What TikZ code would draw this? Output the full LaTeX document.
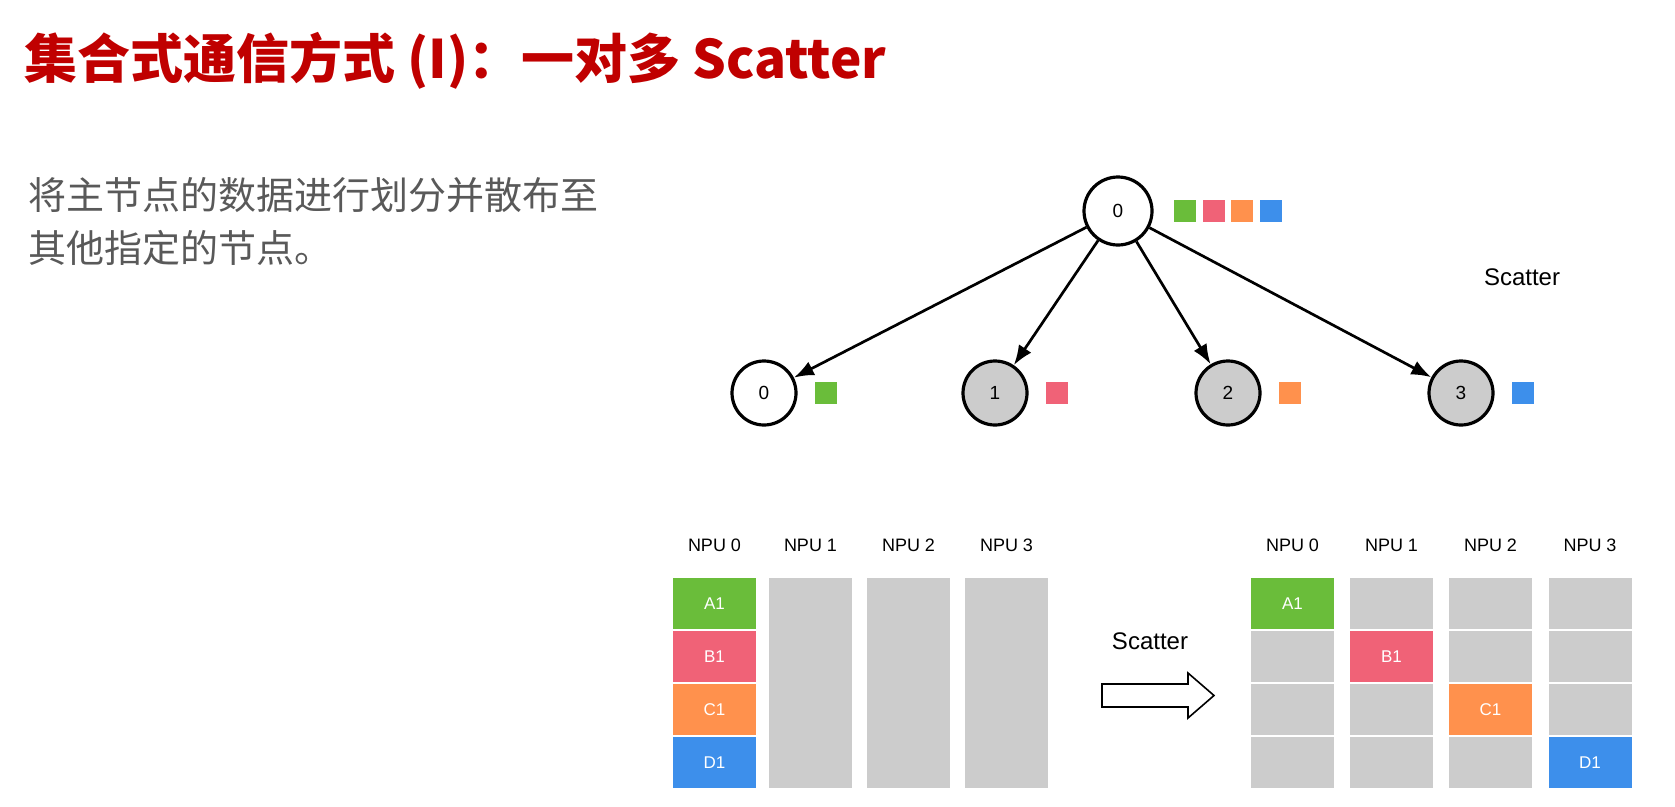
\documentclass[tikz,border=0pt]{standalone}
\usepackage{fontspec}
\setmainfont{Liberation Sans}
\newfontfamily\cjk{Noto Sans CJK SC}
\usepackage{tikz}
\usetikzlibrary{positioning}
\usetikzlibrary{arrows.meta}

\definecolor{cred}{HTML}{C00000}
\definecolor{cbody}{HTML}{595959}
\definecolor{cgreen}{HTML}{6ABD3A}
\definecolor{cpink}{HTML}{F06277}
\definecolor{corange}{HTML}{FF914D}
\definecolor{cblue}{HTML}{3D8FEB}
\definecolor{cgray}{HTML}{CCCCCC}

\begin{document}
\begin{tikzpicture}
	[x=1pt, y=-1pt, line width=2.7pt, >={Latex[length=20pt,width=15pt]},
	 main/.style = {draw, circle, line width=3.2pt, minimum size=64pt, inner sep=0pt, font=\fontsize{19}{19}\selectfont},
	 done/.style = {main, fill=cgray},
	 sq/.style = {minimum size=22pt, inner sep=0pt},
	 cell/.style = {minimum width=83pt, minimum height=51pt, inner sep=0pt, text=white, font=\fontsize{17}{17}\selectfont},
	 npu/.style = {font=\fontsize{18}{18}\selectfont},
	 lbl/.style = {font=\fontsize{24}{24}\selectfont}]
	\useasboundingbox (0,0) rectangle (1675,806);
	% title and text
	\node[anchor=base west, text=cred, inner sep=0pt, font=\cjk\bfseries\fontsize{53}{53}\selectfont] (title) at (23,78) {集合式通信方式 (I)：一对多 Scatter};
	\node[anchor=north west, text=cbody, align=left, inner sep=0pt, font=\cjk\fontsize{38}{53}\selectfont] (desc) at (27,176) {将主节点的数据进行划分并散布至\\其他指定的节点。};
	% tree
	\node[main, minimum size=68pt] (0) at (1118,211) {0};
	\node[main] (n0) at (764,393) {0};
	\node[done] (n1) at (995,393) {1};
	\node[done] (n2) at (1228,393) {2};
	\node[done] (n3) at (1461,393) {3};
	\node[sq, fill=cgreen] (q0) [right = 19pt of 0] {};
	\node[sq, fill=cpink] (q1) [right = 4pt of q0] {};
	\node[sq, fill=corange] (q2) [right = 4pt of q1] {};
	\node[sq, fill=cblue] (q3) [right = 4pt of q2] {};
	\node[sq, fill=cgreen] (s0) [right = 16pt of n0] {};
	\node[sq, fill=cpink] (s1) [right = 16pt of n1] {};
	\node[sq, fill=corange] (s2) [right = 16pt of n2] {};
	\node[sq, fill=cblue] (s3) [right = 16pt of n3] {};
	\node[lbl] (tl) at (1522,277) {Scatter};
	\draw[->] (0) -- (n0);
	\draw[->] (0) -- (n1);
	\draw[->] (0) -- (n2);
	\draw[->] (0) -- (n3);
	% before
	\node[npu] (h0) at (714.5,545) {NPU 0};
	\node[npu] (h1) at (810.5,545) {NPU 1};
	\node[npu] (h2) at (908.5,545) {NPU 2};
	\node[npu] (h3) at (1006.5,545) {NPU 3};
	\node[cell, fill=cgreen] (a1) at (714.5,603.5) {A1};
	\node[cell, fill=cpink] (b1) at (714.5,656.5) {B1};
	\node[cell, fill=corange] (c1) at (714.5,709.5) {C1};
	\node[cell, fill=cblue] (d1) at (714.5,762.5) {D1};
	\node[cell, fill=cgray, minimum height=210pt] (p1) at (810.5,683) {};
	\node[cell, fill=cgray, minimum height=210pt] (p2) at (908.5,683) {};
	\node[cell, fill=cgray, minimum height=210pt] (p3) at (1006.5,683) {};
	% arrow
	\node[lbl] (al) at (1150,641) {Scatter};
	\draw[line width=1.6pt, fill=white] (1102,684) -- (1188,684) -- (1188,673) -- (1214,695.5) -- (1188,718) -- (1188,707) -- (1102,707) -- cycle;
	% after
	\node[npu] (k0) at (1292.5,545) {NPU 0};
	\node[npu] (k1) at (1391.5,545) {NPU 1};
	\node[npu] (k2) at (1490.5,545) {NPU 2};
	\node[npu] (k3) at (1590,545) {NPU 3};
	\node[cell, fill=cgreen] (ra0) at (1292.5,603.5) {A1};
	\node[cell, fill=cgray] (rb0) at (1292.5,656.5) {};
	\node[cell, fill=cgray] (rc0) at (1292.5,709.5) {};
	\node[cell, fill=cgray] (rd0) at (1292.5,762.5) {};
	\node[cell, fill=cgray] (ra1) at (1391.5,603.5) {};
	\node[cell, fill=cpink] (rb1) at (1391.5,656.5) {B1};
	\node[cell, fill=cgray] (rc1) at (1391.5,709.5) {};
	\node[cell, fill=cgray] (rd1) at (1391.5,762.5) {};
	\node[cell, fill=cgray] (ra2) at (1490.5,603.5) {};
	\node[cell, fill=cgray] (rb2) at (1490.5,656.5) {};
	\node[cell, fill=corange] (rc2) at (1490.5,709.5) {C1};
	\node[cell, fill=cgray] (rd2) at (1490.5,762.5) {};
	\node[cell, fill=cgray] (ra3) at (1590,603.5) {};
	\node[cell, fill=cgray] (rb3) at (1590,656.5) {};
	\node[cell, fill=cgray] (rc3) at (1590,709.5) {};
	\node[cell, fill=cblue] (rd3) at (1590,762.5) {D1};
\end{tikzpicture}
\end{document}
